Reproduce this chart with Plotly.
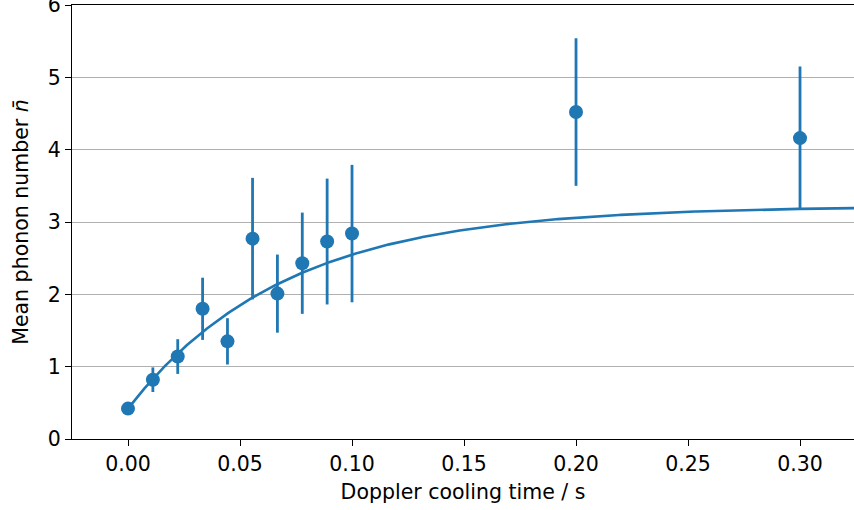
import numpy as np
import plotly.graph_objects as go

# Measured mean phonon number after Doppler cooling
cooling_time = [0.0, 0.0111, 0.0222, 0.0333, 0.0444, 0.0556, 0.0667,
                0.0778, 0.0889, 0.1, 0.2, 0.3]
mean_phonon = [0.42, 0.82, 1.14, 1.80, 1.35, 2.77, 2.01, 2.43, 2.73,
               2.84, 4.52, 4.16]
phonon_err = [0.08, 0.17, 0.24, 0.43, 0.32, 0.84, 0.54, 0.70, 0.87,
              0.95, 1.02, 0.99]

# Exponential heating fit: n(t) = n_inf - (n_inf - n0) * exp(-t / tau)
fit_n0 = 0.42
fit_n_inf = 3.22
fit_tau = 0.070

x_ticks = [0.0, 0.05, 0.10, 0.15, 0.20, 0.25, 0.30]
x_tick_text = ["0.00", "0.05", "0.10", "0.15", "0.20", "0.25", "0.30"]
y_ticks = [0, 1, 2, 3, 4, 5, 6]

C0 = "#1f77b4"
FONT = "DejaVu Sans"
FS = 20.5

t_fit = np.linspace(0.0, 0.33, 400)
n_fit = fit_n_inf - (fit_n_inf - fit_n0) * np.exp(-t_fit / fit_tau)

fig = go.Figure()

fig.add_trace(go.Scatter(
    x=t_fit, y=n_fit, mode="lines",
    line=dict(color=C0, width=2.6),
    hoverinfo="skip", showlegend=False,
))

fig.add_trace(go.Scatter(
    x=cooling_time, y=mean_phonon, mode="markers",
    marker=dict(color=C0, size=14, line=dict(width=0)),
    error_y=dict(type="data", array=phonon_err, visible=True,
                 color=C0, thickness=2.8, width=0),
    showlegend=False,
))

axis_common = dict(
    showline=True, linecolor="black", linewidth=1.3,
    ticks="outside", ticklen=6, tickwidth=1.3, tickcolor="black",
    tickfont=dict(family=FONT, size=FS, color="black"),
    zeroline=False,
    ticklabeloverflow="allow",
    automargin=False,
)

fig.update_layout(
    width=854, height=510,
    margin=dict(l=72, r=0, t=5, b=71),
    paper_bgcolor="white", plot_bgcolor="white",
    font=dict(family=FONT, size=FS, color="black"),
    xaxis=dict(
        range=[-0.025, 0.3241],
        tickvals=x_ticks, ticktext=x_tick_text,
        showgrid=False, mirror=True,
        title=dict(text="Doppler cooling time / s",
                   font=dict(family=FONT, size=FS, color="black"),
                   standoff=9),
        **axis_common,
    ),
    yaxis=dict(
        range=[0, 6],
        tickvals=y_ticks,
        showgrid=True, gridcolor="#b0b0b0", gridwidth=1.3,
        mirror=False,
        title=dict(text="Mean phonon number <i>n̄</i>",
                   font=dict(family=FONT, size=FS, color="black"),
                   standoff=13),
        **axis_common,
    ),
)

fig.write_html("out.html")
